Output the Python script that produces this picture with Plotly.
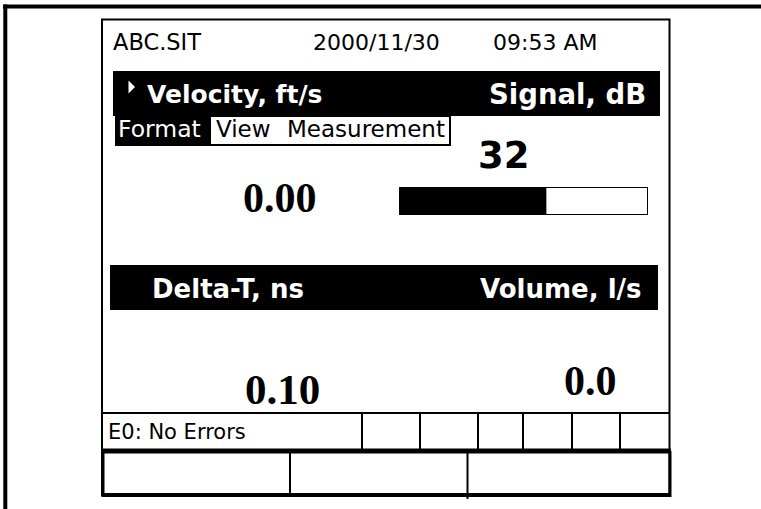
import plotly.graph_objects as go

W, H = 761, 509

# ---- data ----
file_name = "ABC.SIT"
date_text = "2000/11/30"
time_text = "09:53 AM"
menu_items = ["Format", "View", "Measurement"]
quadrant_titles = ["Velocity, ft/s", "Signal, dB", "Delta-T, ns", "Volume, l/s"]
quadrant_values = ["0.00", "32", "0.10", "0.0"]
signal_db = [32]
signal_full_scale = 54
status_text = "E0: No Errors"

SANS = "DejaVu Sans, Arial, sans-serif"
SERIF = "Liberation Serif, Times New Roman, serif"

fig = go.Figure()

# signal strength bar drawn as a real bar trace on its own axes
bx0, bx1, by0, by1 = 400, 647, 188, 214
fig.add_trace(go.Bar(
    x=signal_db, y=[0], orientation="h", width=1,
    marker=dict(color="black", line=dict(width=0)),
    xaxis="x2", yaxis="y2", hoverinfo="skip", showlegend=False))

shapes = []
def rect(x0, y0, x1, y1, fill=None, lw=0, lc="black"):
    shapes.append(dict(type="rect", xref="x", yref="y", x0=x0, y0=y0, x1=x1, y1=y1,
                       fillcolor=fill if fill else "rgba(0,0,0,0)",
                       line=dict(width=lw, color=lc), layer="below"))
def line(x0, y0, x1, y1, lw=2):
    shapes.append(dict(type="line", xref="x", yref="y", x0=x0, y0=y0, x1=x1, y1=y1,
                       line=dict(width=lw, color="black"), layer="above"))

# outer page frame
line(3, 6.5, W, 6.5, 4)
line(5.3, 4.5, 5.3, H, 4)
# inner screen box
rect(102, 19.5, 669.5, 495, lw=2)
# header bars
rect(113, 71, 660, 116, fill="black")
rect(115, 116, 210, 146, fill="black")
rect(210, 116, 450, 145, fill="white", lw=2)
rect(110, 265, 658, 310, fill="black")
# signal bar outline
rect(bx0, by0, bx1, by1, lw=2)
# status row and soft keys
line(102, 413, 669.5, 413, 2)
line(102, 451, 671, 451, 5)
line(102, 495, 671, 495, 4)
line(103, 451, 103, 497, 3)
line(670, 451, 670, 497, 3)
for xd in [362, 420, 478, 523, 572, 620]:
    line(xd, 413, xd, 451, 2)
line(290, 451, 290, 495, 2)
line(467.5, 451, 467.5, 499, 2)
# selection triangle
shapes.append(dict(type="path", xref="x", yref="y",
                   path="M 128.5 80.5 L 135 87 L 128.5 93.5 Z",
                   fillcolor="white", line=dict(width=0)))

ann = []
def text(x, y, s, size, color="black", family=SANS, xanchor="left", bold=False):
    ann.append(dict(x=x, y=y, xref="x", yref="y", text=f"<b>{s}</b>" if bold else s,
                    showarrow=False, xanchor=xanchor, yanchor="middle",
                    font=dict(size=size, color=color, family=family)))

text(111, 42, file_name, 22.5)
text(311, 42, date_text, 22)
text(599, 42, time_text, 22, xanchor="right")
text(145, 94, quadrant_titles[0], 25, color="white", bold=True)
text(648, 94, quadrant_titles[1], 27.5, color="white", bold=True, xanchor="right")
text(116, 129, menu_items[0], 23.5, color="white")
text(214, 129, menu_items[1], 23)
text(447, 129, menu_items[2], 23, xanchor="right")
text(504, 155, quadrant_values[1], 37, bold=True, xanchor="center")
text(280, 198, quadrant_values[0], 42, family=SERIF, bold=True, xanchor="center")
text(150, 289, quadrant_titles[2], 26, color="white", bold=True)
text(644, 289, quadrant_titles[3], 26, color="white", bold=True, xanchor="right")
text(282, 389, quadrant_values[2], 43, family=SERIF, bold=True, xanchor="center")
text(590, 381, quadrant_values[3], 42, family=SERIF, bold=True, xanchor="center")
text(106, 432, status_text, 21)

fig.update_layout(
    width=W, height=H, margin=dict(l=0, r=0, t=0, b=0),
    paper_bgcolor="white", plot_bgcolor="white",
    xaxis=dict(range=[0, W], visible=False, fixedrange=True),
    yaxis=dict(range=[H, 0], visible=False, fixedrange=True),
    xaxis2=dict(domain=[bx0 / W, bx1 / W], range=[0, signal_full_scale], visible=False,
                anchor="y2", fixedrange=True),
    yaxis2=dict(domain=[1 - by1 / H, 1 - by0 / H], range=[-0.5, 0.5], visible=False,
                anchor="x2", fixedrange=True),
    shapes=shapes, annotations=ann, showlegend=False,
)

fig.write_html("out.html", config={"displayModeBar": False},
               post_script="document.body.style.margin='0';document.body.style.overflow='hidden';")
